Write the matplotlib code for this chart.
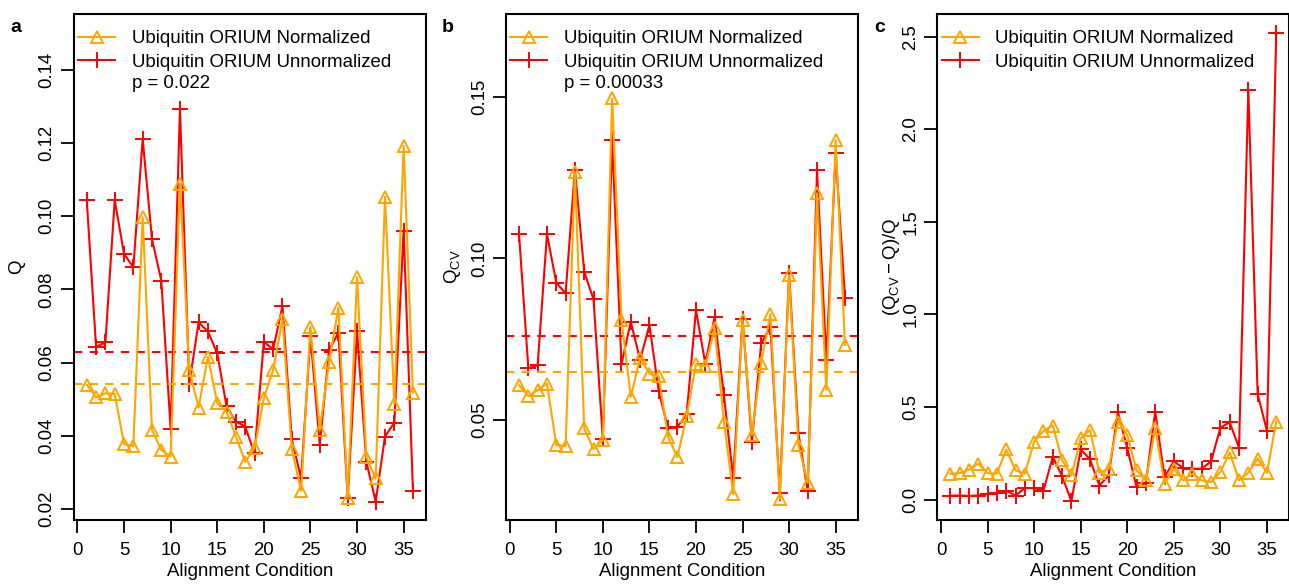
import numpy as np
import matplotlib
matplotlib.use("Agg")
import matplotlib.pyplot as plt
from matplotlib.lines import Line2D

plt.rcParams['font.family'] = ['Liberation Sans', 'DejaVu Sans']
plt.rcParams['mathtext.fontset'] = 'custom'
plt.rcParams['mathtext.rm'] = 'Liberation Sans'
plt.rcParams['mathtext.it'] = 'Liberation Sans:italic'
plt.rcParams['mathtext.bf'] = 'Liberation Sans:bold'

# ---------------- data ----------------
conditions = list(range(1, 37))

a_normalized = [0.0539, 0.0505, 0.0516, 0.0515, 0.0377, 0.0372, 0.0997, 0.0416, 0.0361, 0.0343,
                0.1088, 0.0580, 0.0477, 0.0616, 0.0490, 0.0466, 0.0398, 0.0329, 0.0366, 0.0502,
                0.0580, 0.0718, 0.0363, 0.0250, 0.0698, 0.0416, 0.0602, 0.0750, 0.0229, 0.0833,
                0.0341, 0.0284, 0.1053, 0.0487, 0.1192, 0.0518]
a_unnormalized = [0.1044, 0.0643, 0.0655, 0.1044, 0.0897, 0.0860, 0.1210, 0.0937, 0.0824, 0.0419,
                  0.1293, 0.0542, 0.0710, 0.0685, 0.0625, 0.0480, 0.0439, 0.0425, 0.0352, 0.0657,
                  0.0636, 0.0755, 0.0390, 0.0284, 0.0673, 0.0375, 0.0633, 0.0682, 0.0229, 0.0685,
                  0.0329, 0.0220, 0.0398, 0.0436, 0.0960, 0.0250]
a_mean_normalized = 0.0541
a_mean_unnormalized = 0.0629

b_normalized = [0.0608, 0.0574, 0.0593, 0.0613, 0.0423, 0.0420, 0.1268, 0.0474, 0.0410, 0.0438,
                0.1495, 0.0811, 0.0572, 0.0693, 0.0644, 0.0636, 0.0448, 0.0385, 0.0512, 0.0673,
                0.0667, 0.0784, 0.0495, 0.0271, 0.0809, 0.0454, 0.0678, 0.0828, 0.0255, 0.0948,
                0.0423, 0.0306, 0.1201, 0.0593, 0.1366, 0.0732]
b_unnormalized = [0.1075, 0.0660, 0.0670, 0.1075, 0.0925, 0.0892, 0.1275, 0.0959, 0.0873, 0.0441,
                  0.1366, 0.0673, 0.0804, 0.0686, 0.0794, 0.0590, 0.0474, 0.0479, 0.0518, 0.0840,
                  0.0675, 0.0818, 0.0577, 0.0320, 0.0814, 0.0433, 0.0737, 0.0788, 0.0273, 0.0954,
                  0.0459, 0.0281, 0.1273, 0.0686, 0.1325, 0.0878]
b_mean_normalized = 0.0649
b_mean_unnormalized = 0.0760

c_normalized = [0.140, 0.143, 0.162, 0.195, 0.143, 0.140, 0.271, 0.158, 0.140, 0.313,
                0.371, 0.400, 0.213, 0.131, 0.331, 0.376, 0.145, 0.167, 0.422, 0.349,
                0.158, 0.104, 0.386, 0.086, 0.167, 0.104, 0.140, 0.104, 0.095, 0.149,
                0.255, 0.104, 0.145, 0.222, 0.145, 0.422]
c_unnormalized = [0.022, 0.022, 0.020, 0.022, 0.031, 0.036, 0.049, 0.022, 0.062, 0.062,
                  0.049, 0.231, 0.127, -0.009, 0.271, 0.218, 0.076, 0.131, 0.473, 0.277,
                  0.067, 0.091, 0.476, 0.122, 0.207, 0.171, 0.167, 0.167, 0.207, 0.389,
                  0.418, 0.280, 2.213, 0.571, 0.371, 2.522]

series_labels = ['Ubiquitin ORIUM Normalized', 'Ubiquitin ORIUM Unnormalized']
p_values = ['p = 0.022', 'p = 0.00033', None]
panel_letters = ['a', 'b', 'c']
x_ticks = [0, 5, 10, 15, 20, 25, 30, 35]
a_yticks = [0.02, 0.04, 0.06, 0.08, 0.10, 0.12, 0.14]
b_yticks = [0.05, 0.10, 0.15]
c_yticks = [0.0, 0.5, 1.0, 1.5, 2.0, 2.5]

# ---------------- style ----------------
ORANGE = '#FFA500'
RED = '#FF0000'
FS = 13.4
W, H = 1289, 584

fig = plt.figure(figsize=(W / 100, H / 100), dpi=100)

def px_axes(left, top, right, bottom):
    return fig.add_axes([left / W, 1 - bottom / H, (right - left) / W, (bottom - top) / H])

axes = [px_axes(73.7, 14, 426, 520), px_axes(506, 14, 858, 520), px_axes(937.3, 14, 1289.3, 520)]

panels = [
    (a_normalized, a_unnormalized, a_yticks, (0.0170, 0.1552), 'Q', (a_mean_normalized, a_mean_unnormalized), -0.138),
    (b_normalized, b_unnormalized, b_yticks, (0.0191, 0.1756), r'$\mathrm{Q_{CV}}$', (b_mean_normalized, b_mean_unnormalized), -0.122),
    (c_normalized, c_unnormalized, c_yticks, (-0.11, 2.623), r'$\mathrm{(Q_{CV} - Q)/Q}$', None, -0.100),
]

fmt = {0: lambda v: f'{v:.2f}', 1: lambda v: f'{v:.2f}', 2: lambda v: f'{v:.1f}'}

for i, (ax, (norm, unnorm, yt, ylim, ylab, means, ylx)) in enumerate(zip(axes, panels)):
    ax.plot(conditions, norm, color=ORANGE, lw=1.5, marker='^', ms=8.5, mfc='none', mew=1.4, zorder=3)
    ax.plot(conditions, unnorm, color=RED, lw=1.5, marker='+', ms=11, mew=1.4, zorder=2)
    if means is not None:
        ax.axhline(means[1], color=RED, lw=1.5, dashes=(4, 3.5))
        ax.axhline(means[0], color=ORANGE, lw=1.5, dashes=(4, 3.5))
    ax.set_xlim(-0.4, 37.4)
    ax.set_ylim(*ylim)
    ax.set_xticks(x_ticks)
    ax.set_xticklabels([str(t) for t in x_ticks])
    ax.set_yticks(yt)
    ax.set_yticklabels([fmt[i](v) for v in yt])
    for lbl in ax.get_yticklabels():
        lbl.set_rotation(90)
        lbl.set_va('center')
    for s in ax.spines.values():
        s.set_linewidth(1.5)
    ax.tick_params(direction='out', length=9.5, width=1.3, labelsize=FS)
    ax.tick_params(axis='x', pad=6)
    ax.tick_params(axis='y', pad=3.5)
    ax.set_xlabel('Alignment Condition', fontsize=FS, labelpad=3)
    ax.set_ylabel(ylab, fontsize=FS)
    ax.yaxis.set_label_coords(ylx, 0.5)

    handles = [Line2D([], [], color=ORANGE, lw=1.5, marker='^', ms=8.5, mfc='none', mew=1.4),
               Line2D([], [], color=RED, lw=1.5, marker='+', ms=11, mew=1.4)]
    ax.legend(handles, series_labels, loc='upper left', bbox_to_anchor=(0.012, 0.968),
              frameon=False, fontsize=FS, handlelength=2.0, handletextpad=0.9,
              labelspacing=0.36, borderaxespad=0, borderpad=0)
    if p_values[i]:
        ax.text((132 - 73.7) / 352, (520 - 84) / 506, p_values[i], transform=ax.transAxes,
                fontsize=FS, ha='left', va='center')

for letter, xp in zip(panel_letters, [16, 448, 880]):
    fig.text(xp / W, 1 - 27 / H, letter, fontsize=14, fontweight='bold', ha='center', va='center')

fig.savefig('out.png', dpi=100)
